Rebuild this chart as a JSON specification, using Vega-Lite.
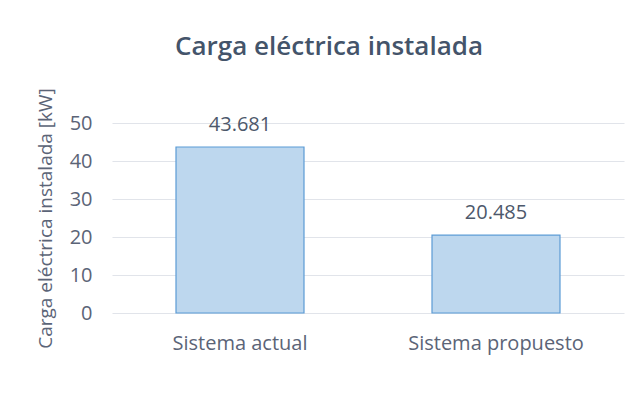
{
  "$schema": "https://vega.github.io/schema/vega-lite/v6.json",
  "autosize": {"type": "none"},
  "width": 512,
  "height": 190,
  "padding": {"left": 112, "top": 123, "right": 13, "bottom": 84},
  "background": "white",
  "title": {
    "text": "Carga eléctrica instalada",
    "font": "Open Sans",
    "fontSize": 26,
    "fontWeight": 600,
    "color": "#44546A",
    "anchor": "middle",
    "frame": "group",
    "dx": -39,
    "baseline": "alphabetic",
    "offset": 7
  },
  "data": {
    "values": [
      {"sistema": "Sistema actual", "carga": 43.681},
      {"sistema": "Sistema propuesto", "carga": 20.485}
    ]
  },
  "encoding": {
    "x": {
      "field": "sistema",
      "type": "nominal",
      "sort": null,
      "scale": {"paddingInner": 0.5, "paddingOuter": 0.25},
      "axis": {
        "title": null,
        "labelAngle": 0,
        "domain": false,
        "ticks": false,
        "labelPadding": 20,
        "labelFont": "Open Sans",
        "labelFontSize": 20,
        "labelColor": "#5B6477"
      }
    },
    "y": {
      "field": "carga",
      "type": "quantitative",
      "scale": {"domain": [0, 50], "nice": false},
      "axis": {
        "title": "Carga eléctrica instalada [kW]",
        "titleFont": "Open Sans",
        "titleFontSize": 19,
        "titleFontWeight": "normal",
        "titleColor": "#5B6477",
        "titlePadding": 14,
        "values": [0, 10, 20, 30, 40, 50],
        "domain": false,
        "ticks": false,
        "labelPadding": 20,
        "labelFont": "Open Sans",
        "labelFontSize": 20,
        "labelColor": "#5B6477",
        "gridColor": "#E1E4EA",
        "gridWidth": 1.2
      }
    }
  },
  "layer": [
    {
      "mark": {"type": "bar", "fill": "#BDD7EE", "stroke": "#5B9BD5", "strokeWidth": 1.2}
    },
    {
      "mark": {
        "type": "text",
        "baseline": "alphabetic",
        "dy": -16,
        "font": "Open Sans",
        "fontSize": 20,
        "color": "#4D586B"
      },
      "encoding": {
        "text": {"field": "carga", "type": "quantitative", "format": ".3f"}
      }
    }
  ],
  "config": {"view": {"stroke": null}}
}
